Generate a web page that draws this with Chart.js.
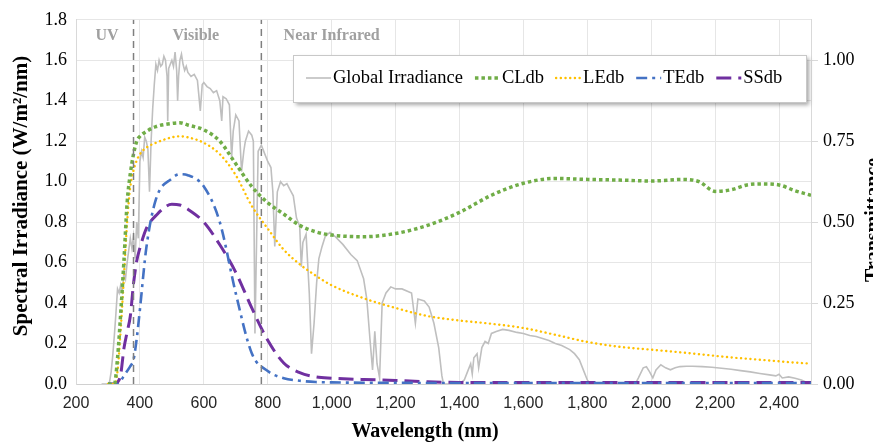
<!DOCTYPE html>
<html>
<head>
<meta charset="utf-8">
<script src="https://cdn.jsdelivr.net/npm/chart.js@4.4.1/dist/chart.umd.min.js"></script>
<style>
  html, body { margin: 0; padding: 0; background: #fff; }
</style>
</head>
<body>
<canvas id="spectrumChart" width="873" height="443"></canvas>
<script>
// global irradiance (left axis, W/m2/nm)
const giWavelength = [
  280, 300, 305, 310, 315, 320, 325, 330, 335, 340, 345, 350, 355, 360, 365, 370, 375, 380, 385, 390, 395,
  400, 405, 410, 415, 420, 425, 430, 435, 440, 445, 450, 455, 460, 465, 470, 475, 480, 485, 487, 490,
  495, 500, 505, 510, 515, 518, 521, 525, 530, 535, 540, 545, 550, 560, 570, 580, 589, 595, 600, 610,
  620, 630, 640, 650, 656, 660, 670, 680, 687, 692, 700, 710, 718, 725, 730, 740, 750, 755, 760, 765,
  770, 780, 790, 800, 810, 816, 822, 830, 840, 850, 860, 870, 880, 890, 900, 905, 910, 920, 930, 937,
  945, 953, 960, 970, 980, 995, 1010, 1035, 1060, 1080, 1100, 1110, 1120, 1128, 1135, 1142, 1150, 1158, 1170, 1185,
  1200, 1220, 1250, 1262, 1270, 1290, 1305, 1320, 1335, 1345, 1350, 1400, 1415, 1425, 1435, 1440, 1445, 1455, 1460, 1470,
  1480, 1490, 1500, 1515, 1535, 1555, 1580, 1600, 1620, 1640, 1660, 1680, 1700, 1720, 1745, 1760, 1775, 1790, 1800, 1810,
  1950, 1960, 1975, 1985, 1995, 2005, 2015, 2030, 2045, 2060, 2075, 2090, 2110, 2130, 2160, 2190, 2220, 2250, 2280, 2310,
  2340, 2370, 2390, 2400, 2410, 2430, 2450, 2470, 2490, 2500
];
const giIrradiance = [
  0, 0, 0.01, 0.06, 0.14, 0.24, 0.35, 0.47, 0.45, 0.49, 0.46, 0.55, 0.52, 0.60, 0.66, 0.72, 0.67, 0.73, 0.62, 0.80, 0.72,
  1.10, 1.15, 1.12, 1.22, 1.20, 1.16, 0.95, 1.20, 1.36, 1.48, 1.58, 1.55, 1.60, 1.57, 1.58, 1.62, 1.60, 1.52, 1.30, 1.56,
  1.58, 1.60, 1.57, 1.64, 1.55, 1.40, 1.52, 1.60, 1.63, 1.58, 1.55, 1.57, 1.54, 1.52, 1.53, 1.50, 1.35, 1.48, 1.49, 1.47,
  1.46, 1.44, 1.45, 1.40, 1.30, 1.42, 1.41, 1.38, 1.12, 1.25, 1.33, 1.30, 1.05, 1.15, 1.20, 1.25, 1.23, 1.20, 0.25, 0.70,
  1.15, 1.18, 1.14, 1.10, 1.07, 0.95, 0.68, 0.95, 1.00, 0.98, 0.99, 0.96, 0.93, 0.82, 0.78, 0.58, 0.70, 0.74, 0.45, 0.15,
  0.30, 0.50, 0.62, 0.68, 0.73, 0.75, 0.73, 0.69, 0.64, 0.61, 0.52, 0.42, 0.22, 0.07, 0.26, 0.10, 0.03, 0.40, 0.45, 0.48,
  0.47, 0.47, 0.45, 0.30, 0.42, 0.41, 0.38, 0.30, 0.18, 0.04, 0, 0, 0.02, 0.06, 0.10, 0.05, 0.13, 0.15, 0.08, 0.18,
  0.21, 0.20, 0.25, 0.26, 0.27, 0.265, 0.255, 0.25, 0.24, 0.235, 0.225, 0.215, 0.20, 0.19, 0.17, 0.15, 0.12, 0.06, 0.02, 0,
  0, 0.03, 0.08, 0.085, 0.06, 0.03, 0.07, 0.095, 0.08, 0.07, 0.08, 0.086, 0.088, 0.088, 0.086, 0.083, 0.078, 0.073, 0.066, 0.06,
  0.052, 0.045, 0.04, 0.048, 0.03, 0.035, 0.028, 0.02, 0.005, 0
];

// transmittance curves (right axis)
const tWavelength = [300, 320, 330, 340, 350, 360, 370, 380, 390, 400,
  420, 450, 500, 525, 550, 600, 650, 700, 750, 800,
  850, 900, 950, 1000, 1100, 1200, 1300, 1400, 1500, 1600,
  1700, 1800, 1900, 2000, 2100, 2150, 2200, 2250, 2300, 2350,
  2400, 2450, 2500];
const cldb = [0, 0, 0.08, 0.22, 0.38, 0.56, 0.65, 0.71, 0.75, 0.765,
  0.78, 0.795, 0.805, 0.807, 0.80, 0.785, 0.75, 0.68, 0.61, 0.56,
  0.525, 0.49, 0.47, 0.46, 0.455, 0.465, 0.49, 0.53, 0.583, 0.62,
  0.635, 0.632, 0.63, 0.627, 0.632, 0.625, 0.595, 0.60, 0.615, 0.618,
  0.615, 0.597, 0.583];
const ledb = [0, 0, 0.04, 0.17, 0.33, 0.50, 0.61, 0.66, 0.69, 0.71,
  0.73, 0.745, 0.762, 0.765, 0.762, 0.745, 0.71, 0.645, 0.55, 0.48,
  0.415, 0.37, 0.335, 0.305, 0.265, 0.235, 0.21, 0.196, 0.186, 0.173,
  0.152, 0.13, 0.115, 0.106, 0.097, 0.092, 0.087, 0.082, 0.078, 0.074,
  0.07, 0.066, 0.063];
const tedb = [0, 0, 0, 0.01, 0.025, 0.04, 0.055, 0.075, 0.14, 0.23,
  0.42, 0.57, 0.635, 0.648, 0.645, 0.61, 0.50, 0.28, 0.095, 0.04,
  0.018, 0.01, 0.006, 0.005, 0.004, 0.004, 0.003, 0.003, 0.003, 0.003,
  0.003, 0.003, 0.003, 0.003, 0.003, 0.003, 0.003, 0.003, 0.003, 0.003,
  0.003, 0.003, 0.003];
const ssdb = [0, 0, 0.005, 0.03, 0.11, 0.16, 0.21, 0.31, 0.38, 0.42,
  0.48, 0.52, 0.555, 0.553, 0.54, 0.50, 0.43, 0.345, 0.235, 0.135,
  0.065, 0.035, 0.022, 0.018, 0.014, 0.011, 0.007, 0.005, 0.005, 0.005,
  0.005, 0.005, 0.005, 0.005, 0.005, 0.005, 0.005, 0.005, 0.005, 0.005,
  0.005, 0.005, 0.005];

const xTicks = [200, 400, 600, 800, 1000, 1200, 1400, 1600, 1800, 2000, 2200, 2400];
const yTicks = [0, 0.2, 0.4, 0.6, 0.8, 1.0, 1.2, 1.4, 1.6, 1.8];
const y1Ticks = [0, 0.25, 0.5, 0.75, 1.0];

// UV / visible / NIR boundaries and labels
const bandEdges = [380, 780];
const bandNames = ['UV', 'Visible', 'Near Infrared'];
const bandLabelX = [297, 575, 1000];

const serif = '"Liberation Serif", "Times New Roman", serif';
const pts = (xs, ys) => xs.map((x, i) => ({ x: x, y: ys[i] }));

const datasets = [
  { label: 'Global Irradiance', data: pts(giWavelength, giIrradiance), yAxisID: 'y',
    borderColor: '#BFBFBF', borderWidth: 1.6, order: 5, tension: 0 },
  { label: 'CLdb', data: pts(tWavelength, cldb), yAxisID: 'y1',
    borderColor: '#70AD47', borderWidth: 3.5, borderDash: [3.5, 3], order: 2,
    cubicInterpolationMode: 'monotone' },
  { label: 'LEdb', data: pts(tWavelength, ledb), yAxisID: 'y1',
    borderColor: '#FFC000', borderWidth: 2.4, borderDash: [0.1, 4.6], borderCapStyle: 'round', order: 2,
    cubicInterpolationMode: 'monotone' },
  { label: 'TEdb', data: pts(tWavelength, tedb), yAxisID: 'y1',
    borderColor: '#4472C4', borderWidth: 2.6, borderDash: [11, 5, 3, 5], order: 2,
    cubicInterpolationMode: 'monotone' },
  { label: 'SSdb', data: pts(tWavelength, ssdb), yAxisID: 'y1',
    borderColor: '#7030A0', borderWidth: 3, borderDash: [15, 7], order: 2,
    cubicInterpolationMode: 'monotone' }
];
// dashed band boundaries
bandEdges.forEach(function (w) {
  datasets.push({ label: '', data: [{ x: w, y: 0 }, { x: w, y: 1.8 }], yAxisID: 'y',
    borderColor: '#7F7F7F', borderWidth: 1.5, borderDash: [7, 5], order: 1 });
});

const overlay = {
  id: 'overlay',
  afterDraw(chart) {
    const ctx = chart.ctx;
    const sx = chart.scales.x, sy = chart.scales.y;

    ctx.save();
    // band names
    ctx.font = 'bold 16px ' + serif;
    ctx.fillStyle = '#A0A0A0';
    ctx.textAlign = 'center';
    ctx.textBaseline = 'middle';
    bandNames.forEach(function (name, i) {
      ctx.fillText(name, sx.getPixelForValue(bandLabelX[i]), sy.getPixelForValue(1.72));
    });

    // axis titles
    ctx.fillStyle = '#000';
    ctx.font = 'bold 20px ' + serif;
    ctx.fillText('Wavelength (nm)', 425, 432);
    ctx.save();
    ctx.translate(22, 196);
    ctx.rotate(-Math.PI / 2);
    ctx.font = 'bold 21px ' + serif;
    ctx.fillText('Spectral Irradiance (W/m²/nm)', 0, 0);
    ctx.restore();
    ctx.save();
    ctx.translate(879, 220);
    ctx.rotate(-Math.PI / 2);
    ctx.textBaseline = 'alphabetic';
    ctx.fillText('Transmittance', 0, 0);
    ctx.restore();

    // legend box
    const bx = 293, by = 55, bw = 513, bh = 47;
    ctx.save();
    ctx.shadowColor = 'rgba(0,0,0,0.35)';
    ctx.shadowBlur = 4;
    ctx.shadowOffsetX = 3;
    ctx.shadowOffsetY = 3;
    ctx.fillStyle = '#fff';
    ctx.fillRect(bx, by, bw, bh);
    ctx.restore();
    ctx.strokeStyle = '#C8C8C8';
    ctx.lineWidth = 1;
    ctx.strokeRect(bx + 0.5, by + 0.5, bw, bh);

    ctx.font = '18.5px ' + serif;
    ctx.textAlign = 'left';
    ctx.textBaseline = 'middle';
    let cx = bx + 13;
    const cy = by + 23;
    for (let i = 0; i < 5; i++) {
      const ds = chart.data.datasets[i];
      ctx.save();
      ctx.strokeStyle = ds.borderColor;
      ctx.lineWidth = ds.borderWidth;
      ctx.setLineDash(ds.borderDash || []);
      ctx.lineCap = ds.borderCapStyle || 'butt';
      ctx.beginPath();
      ctx.moveTo(cx, cy);
      ctx.lineTo(cx + 25, cy);
      ctx.stroke();
      ctx.restore();
      cx += 27;
      ctx.fillStyle = '#000';
      ctx.fillText(ds.label, cx, cy);
      cx += ctx.measureText(ds.label).width + 12;
    }
    ctx.restore();
  }
};

new Chart(document.getElementById('spectrumChart'), {
  type: 'line',
  data: { datasets: datasets },
  options: {
    responsive: false,
    animation: false,
    events: [],
    layout: { padding: { top: 16, left: 0, right: 0, bottom: 0 } },
    elements: { point: { radius: 0 } },
    plugins: { legend: { display: false }, tooltip: { enabled: false } },
    scales: {
      x: {
        type: 'linear', min: 200, max: 2500,
        afterBuildTicks: function (a) { a.ticks = xTicks.map(v => ({ value: v })); },
        afterFit: function (a) { a.height = 59; },
        grid: { color: '#E6E6E6', drawTicks: false },
        border: { color: '#D0D0D0' },
        ticks: {
          padding: 10, color: '#262626', maxRotation: 0, autoSkip: false,
          font: { family: '"Liberation Sans", Arial, sans-serif', size: 16 },
          callback: v => v.toLocaleString('en-US')
        }
      },
      y: {
        position: 'left', min: 0, max: 1.8,
        afterBuildTicks: function (a) { a.ticks = yTicks.map(v => ({ value: v })); },
        afterFit: function (a) { a.width = 76; },
        grid: { color: '#E6E6E6', drawTicks: false },
        border: { color: '#D9D9D9' },
        ticks: { padding: 9, color: '#000', font: { family: serif, size: 18 }, callback: v => v.toFixed(1) }
      },
      y1: {
        position: 'right', min: 0, max: 1.125,
        afterBuildTicks: function (a) { a.ticks = y1Ticks.map(v => ({ value: v })); },
        afterFit: function (a) { a.width = 62; },
        grid: { drawOnChartArea: false, color: '#D9D9D9', tickLength: 7 },
        border: { color: '#D9D9D9' },
        ticks: { padding: 5, color: '#000', font: { family: serif, size: 18 }, callback: v => v.toFixed(2) }
      }
    }
  },
  plugins: [overlay]
});
</script>
</body>
</html>
